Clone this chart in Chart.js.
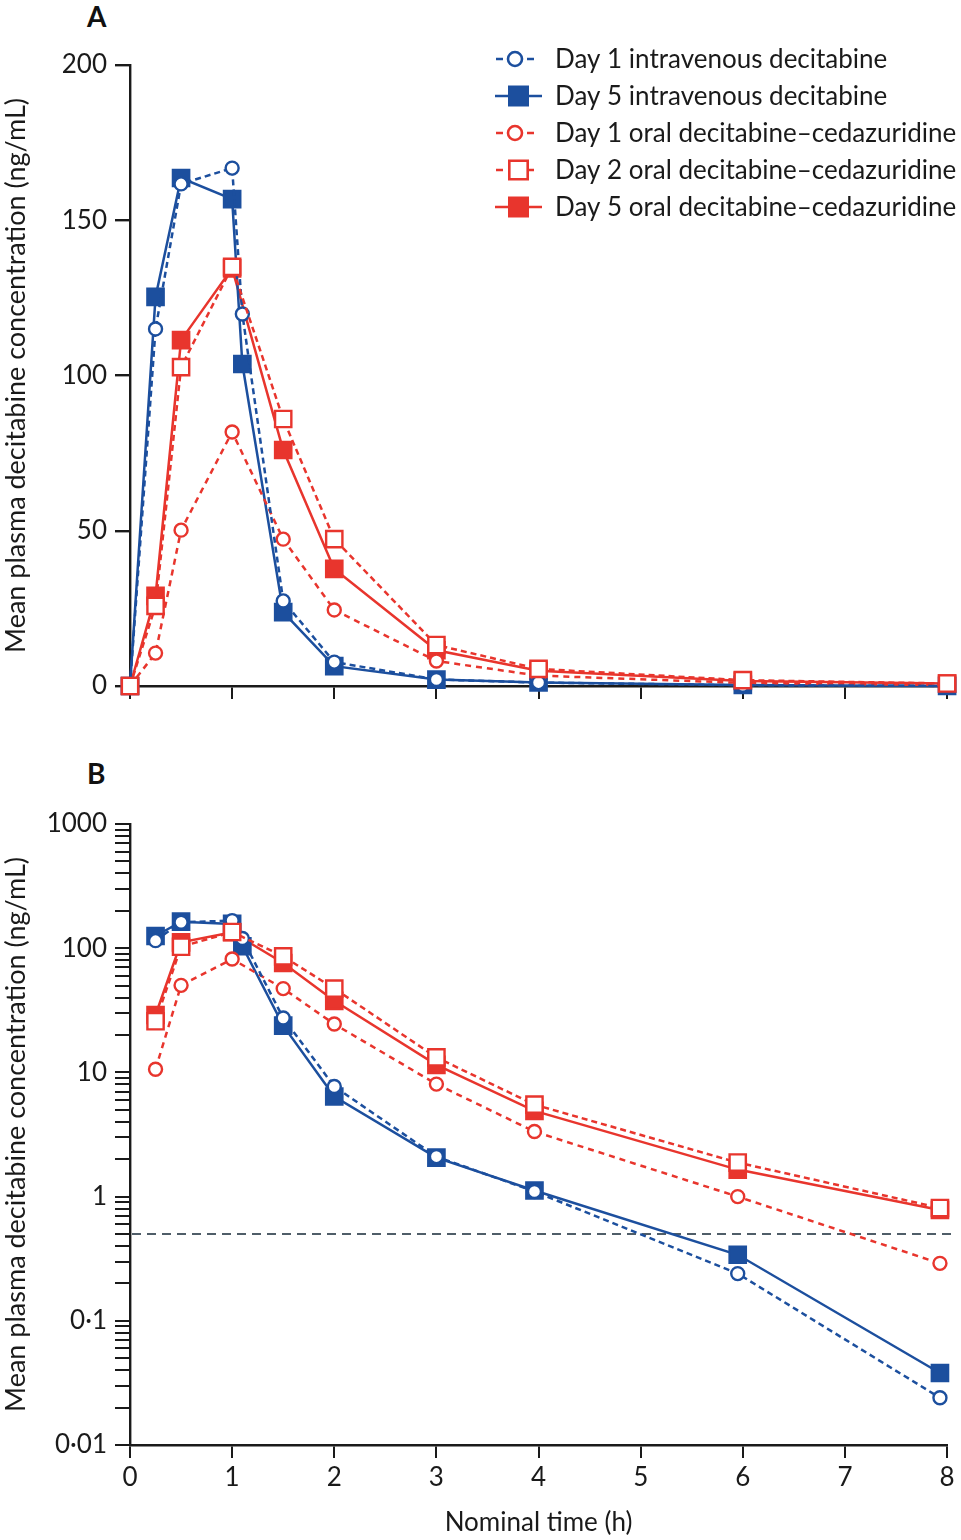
<!DOCTYPE html>
<html><head><meta charset="utf-8">
<script src="https://cdn.jsdelivr.net/npm/chart.js@4.4.1/dist/chart.umd.min.js"></script>
<style>
body{margin:0;background:#fff;width:961px;height:1540px;overflow:hidden;position:relative;font-family:Lato}
#wa{position:absolute;left:0;top:0;width:961px;height:740px}
#wb{position:absolute;left:0;top:740px;width:961px;height:800px}
.lab{position:absolute;font:bold 28px Lato;color:#111;line-height:32px}
</style></head><body>
<div class="lab" style="left:87px;top:0px">A</div>
<div class="lab" style="left:87px;top:757px">B</div>
<div id="wa"><canvas id="ca"></canvas></div>
<div id="wb"><canvas id="cb"></canvas></div>
<script>
// ---- data ----
const times    = [0, 0.25, 0.5, 1, 1.1, 1.5, 2, 3, 4, 6, 8];
const timesLog = [0, 0.25, 0.5, 1, 1.1, 1.5, 2, 3, 3.96, 5.95, 7.93];
const day1IV   = [0, 115, 161.7, 166.8, 119.8, 27.4, 7.7, 2.1, 1.1, 0.24, 0.024];
const day5IV   = [0, 125.3, 163.6, 156.8, 103.7, 23.8, 6.4, 2.06, 1.12, 0.34, 0.038];
const day1Oral = [0, 10.6, 50.2, 81.8, null, 47.3, 24.5, 8.05, 3.34, 1.0, 0.29];
const day2Oral = [0, 25.8, 102.7, 135, null, 86, 47.3, 13.2, 5.5, 1.88, 0.81];
const day5Oral = [0, 29, 111.4, 134.5, null, 76, 37.7, 11.5, 4.9, 1.65, 0.78];
const seriesLabels = ['Day 1 intravenous decitabine','Day 5 intravenous decitabine','Day 1 oral decitabine\u2013cedazuridine','Day 2 oral decitabine\u2013cedazuridine','Day 5 oral decitabine\u2013cedazuridine'];
const xTicks = [0,1,2,3,4,5,6,7,8];
const yLinTicks = [0,50,100,150,200];
const yLogMajor = [0.01,0.1,1,10,100,1000];
const yLogLabels = ['0\u00b701','0\u00b71','1','10','100','1000'];
const lloq = 0.5;

const BLUE = '#1c4f9e', RED = '#e8352d';
const styles = [
  {color:BLUE, dash:[6,4], shape:'circle', filled:false, order:2},
  {color:BLUE, dash:[],    shape:'rect',   filled:true,  order:4},
  {color:RED,  dash:[6,5], shape:'circle', filled:false, order:3},
  {color:RED,  dash:[6,4], shape:'rect',   filled:false, order:1},
  {color:RED,  dash:[],    shape:'rect',   filled:true,  order:5}
];
const allSeries = [day1IV, day5IV, day1Oral, day2Oral, day5Oral];

function buildData(vals, tx, log){
  const out = [];
  vals.forEach((v,i)=>{ if(v===null) return; if(log && v<=0) return; out.push({x:tx[i], y:v}); });
  return out;
}
function datasets(log){
  return allSeries.map((vals,i)=>{
    const s = styles[i];
    return {
      label: seriesLabels[i],
      data: buildData(vals, log ? timesLog : times, log),
      borderColor: s.color,
      backgroundColor: s.filled ? s.color : '#ffffff',
      borderWidth: 2.5,
      borderDash: s.dash,
      pointStyle: s.shape,
      pointRadius: s.shape==='rect' ? 11.5 : 6.5,
      pointBorderWidth: 2.4,
      pointBorderColor: s.color,
      pointBackgroundColor: s.filled ? s.color : '#ffffff',
      pointHoverRadius: s.shape==='rect' ? 11.5 : 6.5,
      tension: 0,
      clip: false,
      order: s.order
    };
  });
}

const FONT = {family:'Lato', size:26};
const TFONT = {family:'Lato', size:27};
const TITLE = 'Mean plasma decitabine concentration (ng/mL)';

const legendPlugin = {
  id:'customLegend',
  afterDraw(chart){
    const ctx = chart.ctx;
    styles.forEach((s,i)=>{
      const y = 59 + i*37;
      ctx.save();
      ctx.strokeStyle = s.color; ctx.lineWidth = 2.5;
      ctx.beginPath();
      if(s.dash.length){
        ctx.moveTo(496,y); ctx.lineTo(503,y);
        ctx.moveTo(527,y); ctx.lineTo(534,y);
      } else {
        ctx.moveTo(495,y); ctx.lineTo(542,y);
      }
      ctx.stroke();
      ctx.lineWidth = 2.6;
      if(s.shape==='circle'){
        ctx.beginPath(); ctx.arc(515,y,7,0,Math.PI*2);
        ctx.fillStyle='#fff'; ctx.fill(); ctx.stroke();
      } else {
        const h = 10.5;
        ctx.beginPath(); ctx.rect(518.5-h,y-h,2*h,2*h);
        ctx.fillStyle = s.filled ? s.color : '#fff'; ctx.fill();
        if(!s.filled){ ctx.beginPath(); ctx.rect(518.5-h+1.3,y-h+1.3,2*h-2.6,2*h-2.6); ctx.stroke(); }
      }
      ctx.fillStyle='#1a1a1a'; ctx.font='26px Lato'; ctx.textBaseline='middle'; ctx.textAlign='left';
      ctx.fillText(seriesLabels[i], 555, y+1);
      ctx.restore();
    });
  }
};
const lloqPlugin = {
  id:'lloq',
  beforeDatasetsDraw(chart){
    const y = chart.scales.y.getPixelForValue(lloq);
    const a = chart.chartArea, ctx = chart.ctx;
    ctx.save(); ctx.strokeStyle='#4f5d68'; ctx.lineWidth=2; ctx.setLineDash([9,6]);
    ctx.beginPath(); ctx.moveTo(a.left+2,y); ctx.lineTo(a.right+6,y); ctx.stroke(); ctx.restore();
  }
};

const common = {
  responsive:true, maintainAspectRatio:false, animation:false,
  plugins:{legend:{display:false}, tooltip:{enabled:false}},
  elements:{line:{borderCapStyle:'butt'}}
};

new Chart(document.getElementById('ca'), {
  type:'line',
  data:{datasets: datasets(false)},
  plugins:[legendPlugin],
  options:{...common,
    layout:{padding:{left:0,right:9,top:65,bottom:34}},
    scales:{
      x:{type:'linear', min:0, max:8,
        afterBuildTicks(s){ s.ticks = xTicks.map(v=>({value:v})); },
        afterFit(s){ s.height = 20; },
        ticks:{display:false},
        grid:{drawOnChartArea:false, drawTicks:true, tickLength:13, color:'#1a1a1a', lineWidth:2},
        border:{color:'#1a1a1a', width:2.4}
      },
      y:{type:'linear', min:0, max:200,
        afterBuildTicks(s){ s.ticks = yLinTicks.map(v=>({value:v})); },
        afterFit(s){ s.width = 130; },
        ticks:{font:FONT, color:'#1a1a1a', padding:8},
        grid:{drawOnChartArea:false, drawTicks:true, tickLength:15, color:'#1a1a1a', lineWidth:2.4},
        border:{color:'#1a1a1a', width:2.4},
        title:{display:true, text:TITLE, font:TFONT, color:'#1a1a1a', padding:{top:0,bottom:0}}
      }
    }
  }
});

new Chart(document.getElementById('cb'), {
  type:'line',
  data:{datasets: datasets(true)},
  plugins:[lloqPlugin],
  options:{...common,
    layout:{padding:{left:0,right:9,top:84,bottom:0}},
    scales:{
      x:{type:'linear', min:0, max:8,
        afterBuildTicks(s){ s.ticks = xTicks.map(v=>({value:v})); },
        afterFit(s){ s.height = 95; },
        ticks:{font:FONT, color:'#1a1a1a', padding:4, callback:v=>String(v)},
        grid:{drawOnChartArea:false, drawTicks:true, tickLength:13, color:'#1a1a1a', lineWidth:2},
        border:{color:'#1a1a1a', width:2.4},
        title:{display:true, text:'Nominal time (h)', font:FONT, color:'#1a1a1a', padding:{top:0,bottom:2}}
      },
      y:{type:'logarithmic', min:0.01, max:1000,
        afterBuildTicks(s){
          const t=[];
          for(let e=-2;e<=3;e++){ for(let m=1;m<=9;m++){ const v=Number((m*Math.pow(10,e)).toPrecision(3)); if(v<=1000) t.push({value:v}); } }
          s.ticks=t;
        },
        afterFit(s){ s.width = 130; },
        ticks:{font:FONT, color:'#1a1a1a', padding:8, autoSkip:false,
          callback(v){ const k = yLogMajor.findIndex(m=>Math.abs(Math.log10(m)-Math.log10(v))<1e-6); return k>=0 ? yLogLabels[k] : ''; }},
        grid:{drawOnChartArea:false, drawTicks:true, tickLength:15, color:'#1a1a1a', lineWidth:2},
        border:{color:'#1a1a1a', width:2.4},
        title:{display:true, text:TITLE, font:TFONT, color:'#1a1a1a', padding:{top:0,bottom:0}}
      }
    }
  }
});
</script>
</body></html>
